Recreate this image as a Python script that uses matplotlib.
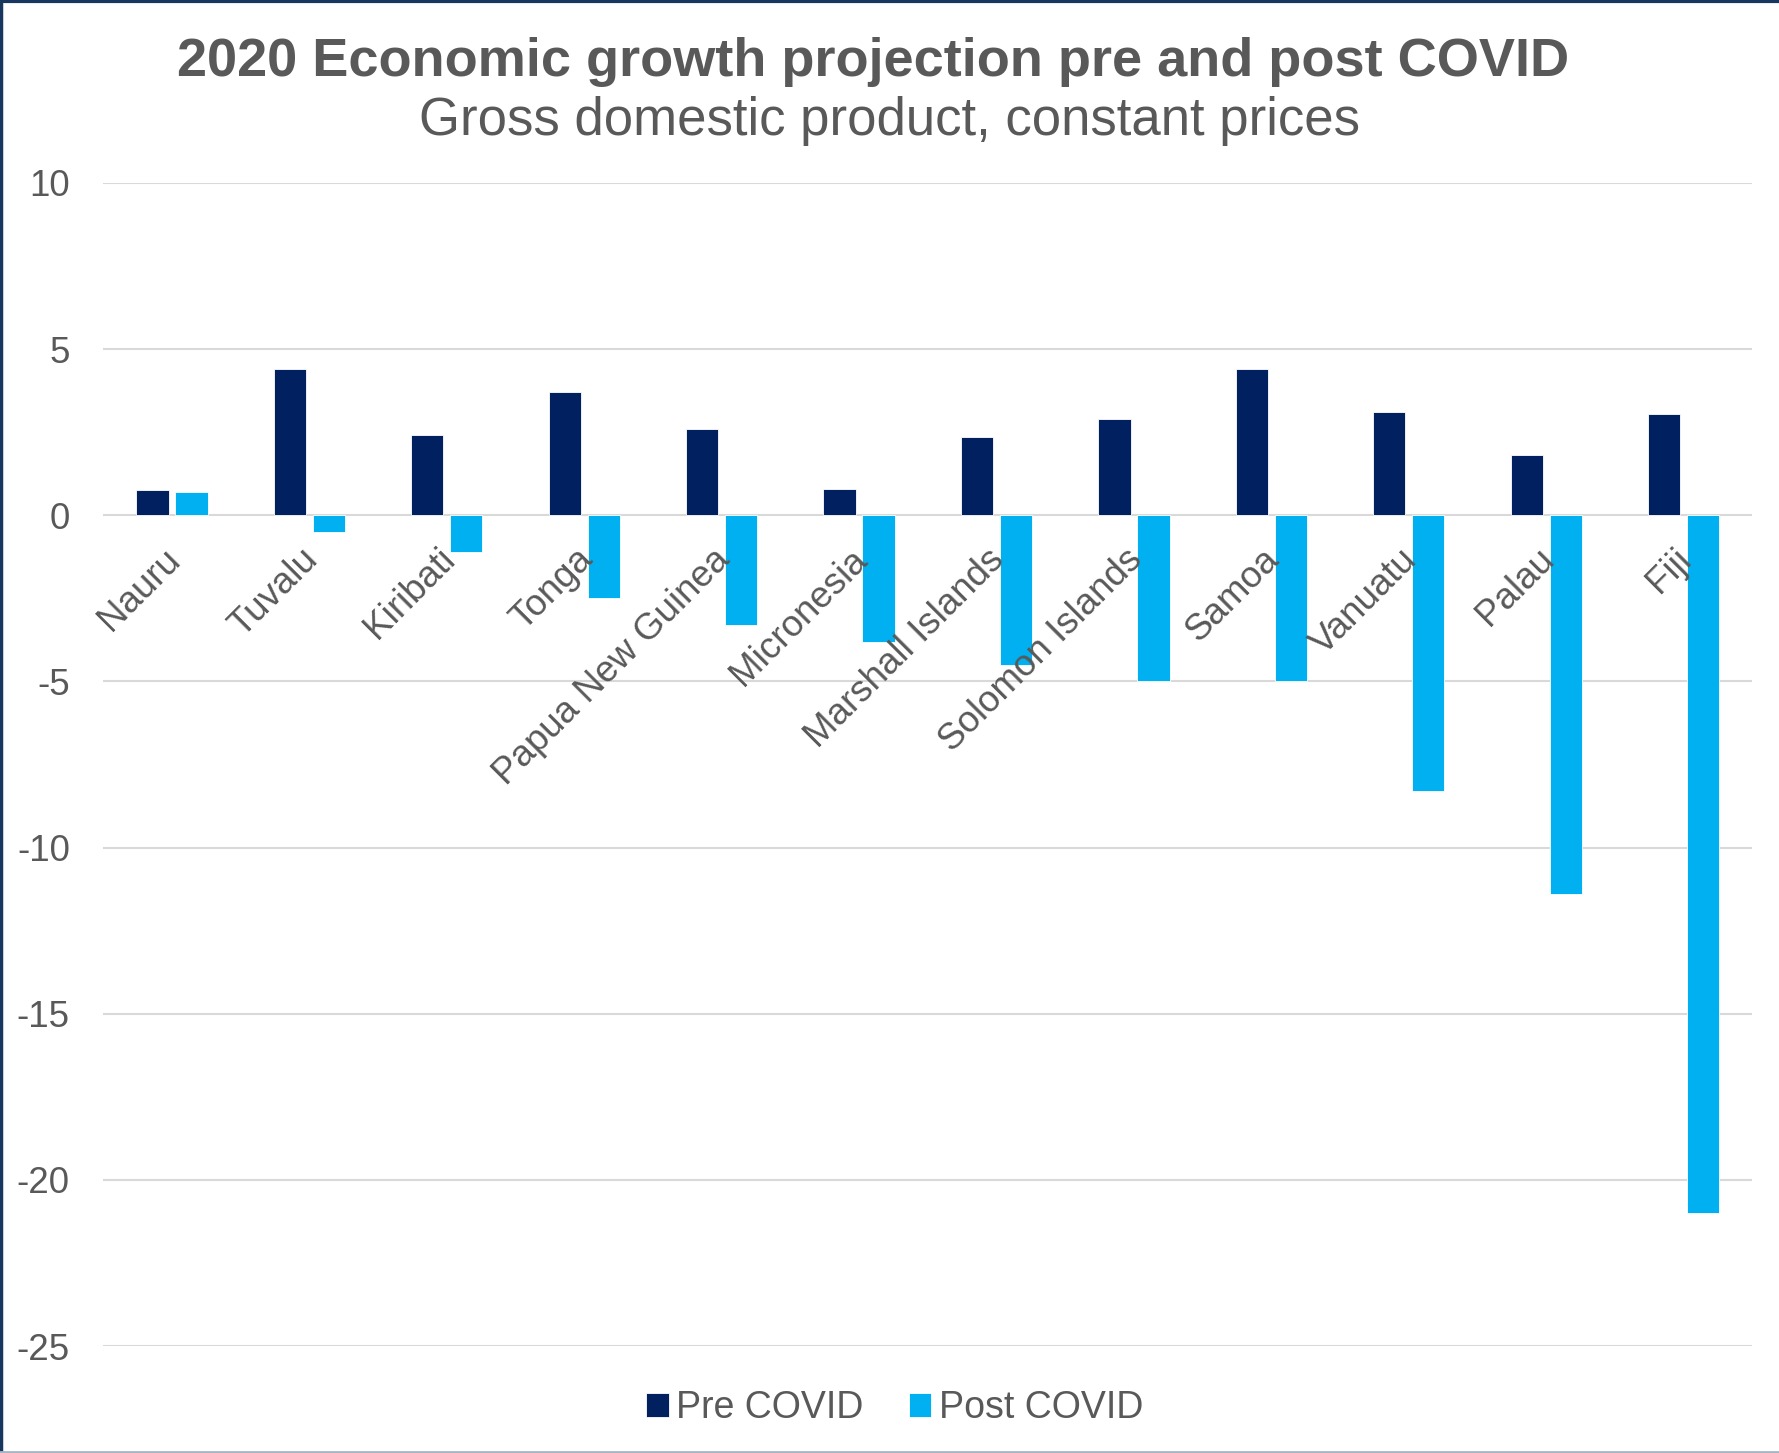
import matplotlib.pyplot as plt
import numpy as np
from matplotlib.lines import Line2D

countries = ["Nauru", "Tuvalu", "Kiribati", "Tonga", "Papua New Guinea",
             "Micronesia", "Marshall Islands", "Solomon Islands", "Samoa",
             "Vanuatu", "Palau", "Fiji"]
pre_covid = [0.75, 4.4, 2.4, 3.7, 2.6, 0.8, 2.35, 2.9, 4.4, 3.1, 1.8, 3.05]
post_covid = [0.7, -0.5, -1.1, -2.5, -3.3, -3.8, -4.5, -5.0, -5.0, -8.3, -11.4, -21.0]
yticks = [10, 5, 0, -5, -10, -15, -20, -25]

plt.rcParams['font.family'] = ['Liberation Sans', 'DejaVu Sans']
grey = '#595959'

fig = plt.figure(figsize=(17.79, 14.53), dpi=100)
ax = fig.add_axes([0.058, 0.0736, 0.927, 0.8005])

x = np.arange(len(countries))
w = 0.235
ax.bar(x - 0.142, pre_covid, w, color='#002060', edgecolor='white', linewidth=0.6,
       label='Pre COVID', zorder=3)
ax.bar(x + 0.142, post_covid, w, color='#00B0F0', edgecolor='white', linewidth=0.6,
       label='Post COVID', zorder=3)

ax.set_xlim(-0.5, len(countries) - 0.5)
ax.set_ylim(-25, 10)
ax.set_yticks(yticks)
ax.set_yticklabels([str(t) for t in yticks])
ax.yaxis.grid(True, color='#d9d9d9', linewidth=1.5, zorder=0)
ax.tick_params(axis='y', length=0, pad=24, labelsize=26.5, labelcolor=grey)
ax.set_xticks([])
for s in ax.spines.values():
    s.set_visible(False)

# category labels sit just under the zero line, rotated like Excel does it
for i, name in enumerate(countries):
    ax.text(i - 0.07, -0.8, name, rotation=45, ha='right', va='top',
            rotation_mode='anchor', fontsize=26.5, color=grey, zorder=4)

fig.text(0.491, 0.9575, "2020 Economic growth projection pre and post COVID",
         ha='center', va='center', fontsize=39, fontweight='bold', color=grey)
fig.text(0.5, 0.917, "Gross domestic product, constant prices",
         ha='center', va='center', fontsize=38, color=grey)

fig.legend(loc='center', bbox_to_anchor=(0.503, 0.031), ncol=2, frameon=False,
           fontsize=27, labelcolor=grey, handlelength=0.6, handleheight=0.6,
           handletextpad=0.2, columnspacing=1.2)

# border
fig.add_artist(Line2D([0, 1], [0.999, 0.999], transform=fig.transFigure,
                      color='#17375e', linewidth=3))
fig.add_artist(Line2D([0.0006, 0.0006], [0, 1], transform=fig.transFigure,
                      color='#17375e', linewidth=2.5))
fig.add_artist(Line2D([0, 1], [0.0008, 0.0008], transform=fig.transFigure,
                      color='#a6b6c6', linewidth=2))

fig.savefig('out.png', dpi=100)
